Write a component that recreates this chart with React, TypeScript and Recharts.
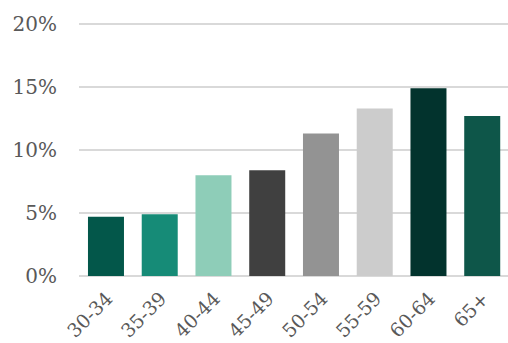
import React from "react";
import { BarChart, Bar, XAxis, YAxis, CartesianGrid, Cell } from "recharts";

// Share of respondents by age band
const ageBands = ["30-34", "35-39", "40-44", "45-49", "50-54", "55-59", "60-64", "65+"];
const shares = [4.7, 4.9, 8.0, 8.4, 11.3, 13.3, 14.9, 12.7];
const barColors = ["#03574A", "#168B77", "#8ECDB8", "#404040", "#939393", "#CCCCCC", "#02332D", "#0E5649"];
const yTicks = [0, 5, 10, 15, 20];

const data = ageBands.map((band, i) => ({ band, share: shares[i] }));

const FONT = "'DejaVu Serif', 'Liberation Serif', serif";
const TEXT = "#595959";

const AgeTick = (props: any) => {
  const { x, y, payload } = props;
  const ax = x + 8;
  const ay = y + 22;
  return (
    <text
      x={ax}
      y={ay}
      transform={`rotate(-45, ${ax}, ${ay})`}
      textAnchor="end"
      fill={TEXT}
      fontFamily={FONT}
      fontSize={19}
    >
      {payload.value}
    </text>
  );
};

export default function App() {
  return (
    <div style={{ position: "absolute", left: 0, top: 0, width: 508, height: 343, overflow: "hidden", background: "#fff" }}>
      <BarChart width={510} height={343} data={data} margin={{ top: 24, right: 1, left: 0, bottom: 0 }} barCategoryGap="16.7%">
        <CartesianGrid vertical={false} stroke="#D9D9D9" strokeWidth={2} />
        <XAxis
          dataKey="band"
          height={67}
          axisLine={false}
          tickLine={false}
          tickSize={0}
          interval={0}
          tick={<AgeTick />}
        />
        <YAxis
          width={79}
          domain={[0, 20]}
          ticks={yTicks}
          axisLine={false}
          tickLine={false}
          tickSize={0}
          tickMargin={22}
          tickFormatter={(v: number) => `${v}%`}
          tick={{ fill: TEXT, fontFamily: FONT, fontSize: 20 }}
        />
        <Bar dataKey="share" isAnimationActive={false}>
          {data.map((d, i) => (
            <Cell key={d.band} fill={barColors[i]} />
          ))}
        </Bar>
      </BarChart>
    </div>
  );
}
